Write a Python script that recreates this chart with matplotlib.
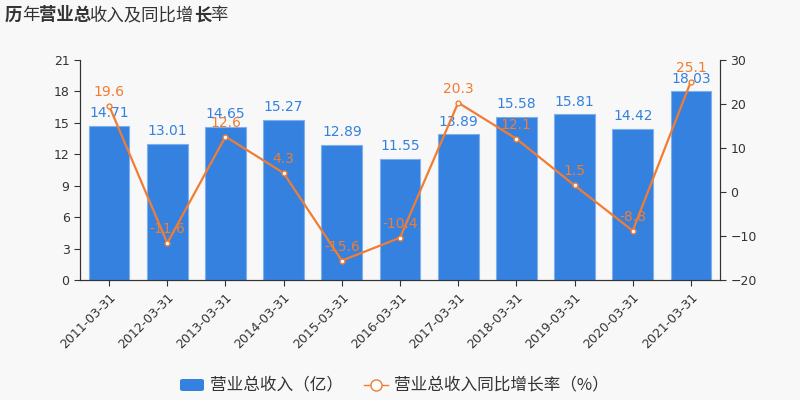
import matplotlib
matplotlib.use('agg')
import matplotlib.pyplot as plt
from matplotlib.lines import Line2D
from matplotlib.patches import FancyBboxPatch

plt.rcParams['font.family'] = ['Noto Sans CJK SC', 'DejaVu Sans']

dates = ['2011-03-31', '2012-03-31', '2013-03-31', '2014-03-31', '2015-03-31', '2016-03-31',
         '2017-03-31', '2018-03-31', '2019-03-31', '2020-03-31', '2021-03-31']
revenue = [14.71, 13.01, 14.65, 15.27, 12.89, 11.55, 13.89, 15.58, 15.81, 14.42, 18.03]
growth = [19.6, -11.6, 12.6, 4.3, -15.6, -10.4, 20.3, 12.1, 1.5, -8.8, 25.1]

bar_color = '#3481e0'
line_color = '#f07d33'
bg = '#f8f8f8'

fig = plt.figure(figsize=(8, 4), dpi=100, facecolor=bg)
ax = fig.add_axes([0.1, 0.3, 0.8, 0.55], facecolor=bg)
ax2 = ax.twinx()

x = range(len(dates))
ax.bar(x, revenue, width=0.7, color=bar_color, edgecolor='#7fb0ee', linewidth=0.8, zorder=2)
for i, v in enumerate(revenue):
    ax.annotate('%.2f' % v, (i, v), xytext=(0, 4), textcoords='offset points',
                ha='center', va='bottom', color='#3481e0', fontsize=10, family='DejaVu Sans')

ax2.plot(x, growth, color=line_color, lw=1.6, marker='o', ms=3.5,
         mfc='white', mec=line_color, mew=1, zorder=3)
for i, v in enumerate(growth):
    ax2.annotate('%.1f' % v, (i, v), xytext=(0, 5), textcoords='offset points',
                 ha='center', va='bottom', color=line_color, fontsize=10, family='DejaVu Sans')

ax.set_xlim(-0.5, len(dates) - 0.5)
ax.set_ylim(0, 21)
ax.set_yticks(range(0, 22, 3))
ax2.set_ylim(-20, 30)
ax2.set_yticks(range(-20, 31, 10))
ax.set_xticks(list(x))
ax.set_xticklabels(dates, rotation=45, ha='right', rotation_mode='anchor')

for a in (ax, ax2):
    a.tick_params(labelsize=9, colors='#333333', length=4)
    for lab in a.get_xticklabels() + a.get_yticklabels():
        lab.set_family('DejaVu Sans')
    a.spines['top'].set_visible(False)
    for s in ('left', 'right', 'bottom'):
        a.spines[s].set_color('#333333')
ax.set_zorder(ax2.get_zorder() - 1)
ax2.patch.set_visible(False)

# title, with the mixed weights seen in the reference
pieces = [('历', 'bold'), ('年', 'normal'), ('营业总', 'bold'), ('收入及同比增', 'normal'),
          ('长', 'bold'), ('率', 'normal')]
renderer = fig.canvas.get_renderer()
xpos = 5 / 800
for txt, w in pieces:
    t = fig.text(xpos, 1 - 15 / 400, txt, fontsize=12.5, fontweight=w, color='#333333',
                 va='center', ha='left')
    bb = t.get_window_extent(renderer)
    xpos += bb.width / 800 - 0.6 / 800

# legend drawn by hand so the bar swatch can be rounded
ly = 1 - 385 / 400
fig.patches.append(FancyBboxPatch((180 / 800, ly - 6 / 400), 24 / 800, 12 / 400,
                                  boxstyle='round,pad=0,rounding_size=0.004',
                                  transform=fig.transFigure, facecolor=bar_color,
                                  edgecolor='none'))
fig.text(210 / 800, ly, '营业总收入（亿）', fontsize=12, color='#333333', va='center', ha='left')
fig.lines.append(Line2D([364 / 800, 388 / 800], [ly, ly], transform=fig.transFigure,
                       color=line_color, lw=1))
fig.lines.append(Line2D([376 / 800], [ly], transform=fig.transFigure, marker='o', ms=8,
                        mfc='white', mec=line_color, mew=1, lw=0))
fig.text(394 / 800, ly, '营业总收入同比增长率（%）', fontsize=12, color='#333333',
         va='center', ha='left')

fig.savefig('out.png', dpi=100, facecolor=bg)
